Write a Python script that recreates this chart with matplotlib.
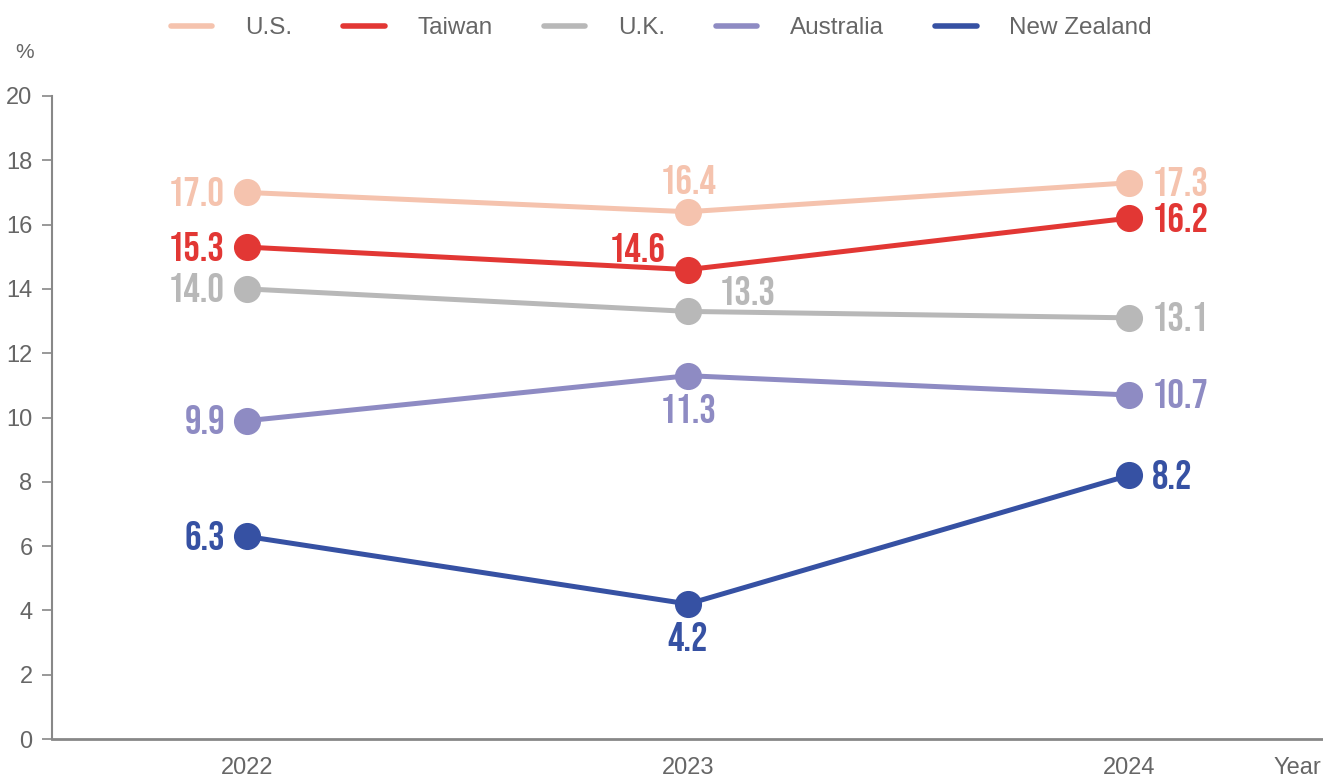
import matplotlib
matplotlib.use("Agg")
import matplotlib.pyplot as plt

years = [2022, 2023, 2024]
countries = ["U.S.", "Taiwan", "U.K.", "Australia", "New Zealand"]
us = [17.0, 16.4, 17.3]
taiwan = [15.3, 14.6, 16.2]
uk = [14.0, 13.3, 13.1]
australia = [9.9, 11.3, 10.7]
new_zealand = [6.3, 4.2, 8.2]
series = [us, taiwan, uk, australia, new_zealand]
colors = ["#F5C3AE", "#E23734", "#B8B8B8", "#8E8BC3", "#3651A3"]
yticks = [0, 2, 4, 6, 8, 10, 12, 14, 16, 18, 20]

# label placement per series per point: (dx, dy, ha, va) in pixels
placements = [
    [(-22, 1, "right", "center"), (0, 18, "center", "bottom"), (23, 1, "left", "center")],
    [(-22, 1, "right", "center"), (-22, 8, "right", "bottom"), (23, 1, "left", "center")],
    [(-22, 1, "right", "center"), (31, 6, "left", "bottom"), (23, 1, "left", "center")],
    [(-22, 1, "right", "center"), (0, -18, "center", "top"), (23, 1, "left", "center")],
    [(-22, 1, "right", "center"), (0, -18, "center", "top"), (23, 1, "left", "center")],
]

LABEL_FONT = ["Bebas Neue", "Oswald", "DejaVu Sans"]
BASE_FONT = ["Liberation Sans", "DejaVu Sans"]
TXT = "#666666"

fig = plt.figure(figsize=(13.23, 7.8), dpi=100)
ax = fig.add_axes([52 / 1323, 41 / 780, 1 - 52 / 1323, (739 - 96) / 780])

for name, vals, col, pl in zip(countries, series, colors, placements):
    ax.plot(years, vals, color=col, lw=3.6, marker="o", ms=18.5,
            solid_capstyle="round", label=name, zorder=3)
    for x, v, (dx, dy, ha, va) in zip(years, vals, pl):
        ax.annotate(f"{v:.1f}", (x, v), xytext=(dx, dy), textcoords="offset pixels",
                    ha=ha, va=va, color=col, fontsize=29.5,
                    family=LABEL_FONT, zorder=4)

ax.set_xlim(2022 - 195 / 441, 2024 + 194 / 441)
ax.set_ylim(0, 20)
ax.set_yticks(yticks)
ax.set_xticks(years)
ax.set_xticklabels([str(y) for y in years])
for s in ["top", "right"]:
    ax.spines[s].set_visible(False)
ax.spines["left"].set_color("#888888")
ax.spines["left"].set_linewidth(1.5)
ax.spines["bottom"].set_color("#888888")
ax.spines["bottom"].set_linewidth(2)
ax.tick_params(axis="y", length=7, width=1.2, color="#888888", pad=7)
ax.tick_params(axis="x", length=0, pad=13)
for lab in ax.get_xticklabels() + ax.get_yticklabels():
    lab.set_family(BASE_FONT)
    lab.set_fontsize(17)
    lab.set_color(TXT)

fig.text(25 / 1323, 1 - 53 / 780, "%", ha="center", va="center",
         fontsize=15, color=TXT, family=BASE_FONT)
fig.text(1297 / 1323, 1 - 768 / 780, "Year", ha="center", va="center",
         fontsize=17, color=TXT, family=BASE_FONT)

leg = fig.legend(loc="center", bbox_to_anchor=(0.5, 1 - 28 / 780), ncol=5,
                 frameon=False, handlelength=1.7, handletextpad=1.35,
                 columnspacing=2.1, prop={"family": BASE_FONT, "size": 17.5})
for h in leg.legend_handles:
    h.set_marker("")
    h.set_linewidth(4)
    h.set_solid_capstyle("round")
for t in leg.get_texts():
    t.set_color(TXT)

fig.savefig("out.png", dpi=100)
